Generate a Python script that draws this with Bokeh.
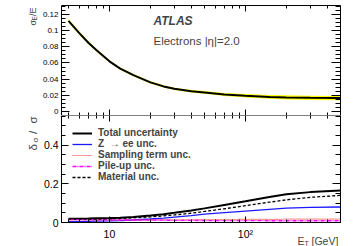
import math
from bokeh.plotting import figure
from bokeh.layouts import column
from bokeh.models import (Range1d, LinearAxis, LogAxis, FixedTicker, Label, Legend, LegendItem)
from bokeh.embed import file_html
from bokeh.resources import INLINE

# ---------------- data ----------------
et = [5, 6, 7, 8, 10, 12, 15, 20, 25, 30, 40, 50, 70, 100, 150, 200, 300, 500]
resolution = [0.112, 0.097, 0.085, 0.076, 0.062, 0.053, 0.045, 0.036, 0.031, 0.028,
              0.025, 0.0235, 0.021, 0.0195, 0.018, 0.0174, 0.0169, 0.0165]
total_unc = [0.020, 0.020, 0.021, 0.022, 0.023, 0.025, 0.029, 0.036, 0.043, 0.050,
             0.062, 0.073, 0.091, 0.110, 0.132, 0.146, 0.157, 0.165]
zee_unc = [0.005, 0.005, 0.006, 0.007, 0.008, 0.010, 0.013, 0.018, 0.023, 0.028,
           0.036, 0.043, 0.051, 0.059, 0.068, 0.074, 0.078, 0.080]
sampling_unc = [0.013, 0.013, 0.013, 0.013, 0.013, 0.013, 0.013, 0.014, 0.014, 0.014,
                0.014, 0.015, 0.015, 0.016, 0.016, 0.017, 0.017, 0.018]
pileup_unc = [0.016, 0.015, 0.015, 0.014, 0.014, 0.013, 0.013, 0.012, 0.012, 0.011,
              0.011, 0.010, 0.010, 0.010, 0.009, 0.009, 0.009, 0.009]
material_unc = [0.017, 0.017, 0.018, 0.018, 0.019, 0.021, 0.024, 0.029, 0.034, 0.039,
                0.048, 0.057, 0.071, 0.087, 0.105, 0.117, 0.130, 0.140]

x_major = [10, 100]
x_major_labels = ["10", "10\u00b2"]
x_minor = [5, 6, 7, 8, 9, 20, 30, 40, 50, 60, 70, 80, 90, 200, 300, 400, 500]
top_yticks = [0, 0.02, 0.04, 0.06, 0.08, 0.1, 0.12]
top_ylabels = ["0", "0.02", "0.04", "0.06", "0.08", "0.1", "0.12"]
top_yminor = [round(i * 0.005, 3) for i in range(0, 27)]
bot_yticks = [0, 0.2, 0.4]
bot_ylabels = ["0", "0.2", "0.4"]
bot_yminor = [round(i * 0.05, 2) for i in range(0, 12)]

band_lo = [r * (1 - t) for r, t in zip(resolution, total_unc)]
band_hi = [r * (1 + t) for r, t in zip(resolution, total_unc)]

FONT = "Liberation Sans"
XMIN, XMAX = 4.44, 500          # axis box range
TOP_Y = (-0.005, 0.1311)
BOT_Y = (0, 0.553)
W = 361
BOX_L, BOX_R = 61, 340          # axis box, page pixels
TOP_T, TOP_B = 5, 115
BOT_T, BOT_B = 115, 222
H1, H2 = 115, 131


def px_to_x(px):
    a, b = math.log10(XMIN), math.log10(XMAX)
    return 10 ** (a + (px - BOX_L) / (BOX_R - BOX_L) * (b - a))


def py_to_y(py, rng, top, bottom):
    return rng[1] - (py - top) / (bottom - top) * (rng[1] - rng[0])


def style_axis(ax, major_in, minor_in, label_size=None, standoff=3):
    ax.major_tick_in = major_in
    ax.major_tick_out = 0
    ax.minor_tick_in = minor_in
    ax.minor_tick_out = 0
    ax.axis_line_color = "black"
    ax.major_tick_line_color = "black"
    ax.minor_tick_line_color = "black"
    ax.major_label_standoff = standoff
    if label_size is None:
        ax.major_label_text_color = None
    else:
        ax.major_label_text_font = FONT
        ax.major_label_text_font_size = label_size
        ax.major_label_text_color = "black"


def lab(p, txt, x, y, fs, angle=0.0, style="normal", align="left"):
    p.add_layout(Label(x=x, y=y, x_units="screen", y_units="screen", text=txt, angle=angle,
                       text_font=FONT, text_font_size=fs, text_font_style=style,
                       text_align=align, text_baseline="alphabetic"))


x_full = Range1d(px_to_x(0), px_to_x(W))

# ---------------- top panel (page y 0..115) ----------------
p1 = figure(width=W, height=H1, x_axis_type="log",
            x_range=x_full,
            y_range=Range1d(py_to_y(H1, TOP_Y, TOP_T, TOP_B), py_to_y(0, TOP_Y, TOP_T, TOP_B)),
            x_axis_location=None, y_axis_location=None,
            output_backend="svg", toolbar_location=None,
            min_border=0, min_border_left=0, min_border_right=0, min_border_top=0, min_border_bottom=0)
p1.grid.visible = False
p1.outline_line_color = None

ly1 = LinearAxis(ticker=FixedTicker(ticks=top_yticks, minor_ticks=top_yminor),
                 major_label_overrides=dict(zip(top_yticks, top_ylabels)),
                 fixed_location=XMIN, bounds=TOP_Y)
style_axis(ly1, 8, 4, "8px")
p1.add_layout(ly1, "left")
ry1 = LinearAxis(ticker=FixedTicker(ticks=top_yticks, minor_ticks=top_yminor),
                 fixed_location=XMAX, bounds=TOP_Y)
style_axis(ry1, 9, 5)
p1.add_layout(ry1, "right")
bx1 = LogAxis(ticker=FixedTicker(ticks=x_major, minor_ticks=x_minor),
              fixed_location=TOP_Y[0], bounds=(XMIN, XMAX))
style_axis(bx1, 6, 3)
p1.add_layout(bx1, "below")
tx1 = LogAxis(ticker=FixedTicker(ticks=x_major, minor_ticks=x_minor),
              fixed_location=TOP_Y[1], bounds=(XMIN, XMAX))
style_axis(tx1, 6, 3)
p1.add_layout(tx1, "above")

p1.varea(x=et, y1=band_lo, y2=band_hi, fill_color="#ffff00", fill_alpha=1.0)
p1.line(et, resolution, line_color="black", line_width=2)

lab(p1, "ATLAS", 153, H1 - 20.7, "12px", style="bold italic")
lab(p1, "Electrons |\u03b7|=2.0", 153, H1 - 40, "11.5px")

# y title  sigma_E / E  (rotated pieces, reading upward)
lab(p1, "\u03c3", 32, H1 - 25, "9px", angle=math.pi / 2)
lab(p1, "E", 34, H1 - 19.9, "6.5px", angle=math.pi / 2)
lab(p1, "/E", 32, H1 - 15.6, "9px", angle=math.pi / 2)

# ---------------- bottom panel (page y 115..246) ----------------
p2 = figure(width=W, height=H2, x_axis_type="log",
            x_range=x_full,
            y_range=Range1d(py_to_y(BOT_T + H2, BOT_Y, BOT_T, BOT_B), BOT_Y[1]),
            x_axis_location=None, y_axis_location=None,
            output_backend="svg", toolbar_location=None,
            min_border=0, min_border_left=0, min_border_right=0, min_border_top=0, min_border_bottom=0)
p2.grid.visible = False
p2.outline_line_color = None

ly2 = LinearAxis(ticker=FixedTicker(ticks=bot_yticks, minor_ticks=bot_yminor),
                 major_label_overrides=dict(zip(bot_yticks, bot_ylabels)),
                 fixed_location=XMIN, bounds=BOT_Y)
style_axis(ly2, 7, 4, "10.5px")
p2.add_layout(ly2, "left")
ry2 = LinearAxis(ticker=FixedTicker(ticks=bot_yticks, minor_ticks=bot_yminor),
                 fixed_location=XMAX, bounds=BOT_Y)
style_axis(ry2, 8, 5)
p2.add_layout(ry2, "right")
bx2 = LogAxis(ticker=FixedTicker(ticks=x_major, minor_ticks=x_minor),
              major_label_overrides=dict(zip(x_major, x_major_labels)),
              fixed_location=BOT_Y[0], bounds=(XMIN, XMAX))
style_axis(bx2, 6, 3, "10.5px", standoff=5)
p2.add_layout(bx2, "below")
tx2 = LogAxis(ticker=FixedTicker(ticks=x_major, minor_ticks=x_minor),
              fixed_location=BOT_Y[1], bounds=(XMIN, XMAX))
style_axis(tx2, 6, 3)
p2.add_layout(tx2, "above")

r_tot = p2.line(et, total_unc, line_color="black", line_width=2)
r_zee = p2.line(et, zee_unc, line_color="#1a1aff", line_width=1.3)
r_smp = p2.line(et, sampling_unc, line_color="#ff3030", line_width=1.2, line_dash="1 1")
r_pu = p2.line(et, pileup_unc, line_color="#ff00ff", line_width=1.3, line_dash="4 1 1 1")
r_mat = p2.line(et, material_unc, line_color="black", line_width=1.3, line_dash="3 2")

legend = Legend(items=[
    LegendItem(label="Total uncertainty", renderers=[r_tot]),
    LegendItem(label="Z  \u2192 ee unc.", renderers=[r_zee]),
    LegendItem(label="Sampling term unc.", renderers=[r_smp]),
    LegendItem(label="Pile-up unc.", renderers=[r_pu]),
    LegendItem(label="Material unc.", renderers=[r_mat]),
], location=(72, H2 - 182 + BOT_T), padding=0, margin=0, spacing=0,
    glyph_width=20, glyph_height=10, label_height=10, label_standoff=6,
    label_text_font=FONT, label_text_font_size="10px", label_text_font_style="bold",
    label_text_line_height=0.95,
    border_line_color=None, background_fill_alpha=0)
p2.add_layout(legend, "center")

# y title  delta_sigma / sigma
B2 = BOT_T + H2
lab(p2, "\u03b4", 32, B2 - 150, "11.5px", angle=math.pi / 2)
lab(p2, "\u03c3", 35, B2 - 142, "8px", angle=math.pi / 2)
lab(p2, "/", 32, B2 - 133.5, "11.5px", angle=math.pi / 2)
lab(p2, "\u03c3", 32, B2 - 123, "11.5px", angle=math.pi / 2)
# x title  E_T [GeV]
lab(p2, "E", 297, B2 - 240, "10.5px")
lab(p2, "T", 304, B2 - 242.5, "7px")
lab(p2, "[GeV]", 311, B2 - 240, "10.5px")

layout = column(p1, p2, spacing=0)
open("out.html", "w").write(file_html(layout, INLINE))
